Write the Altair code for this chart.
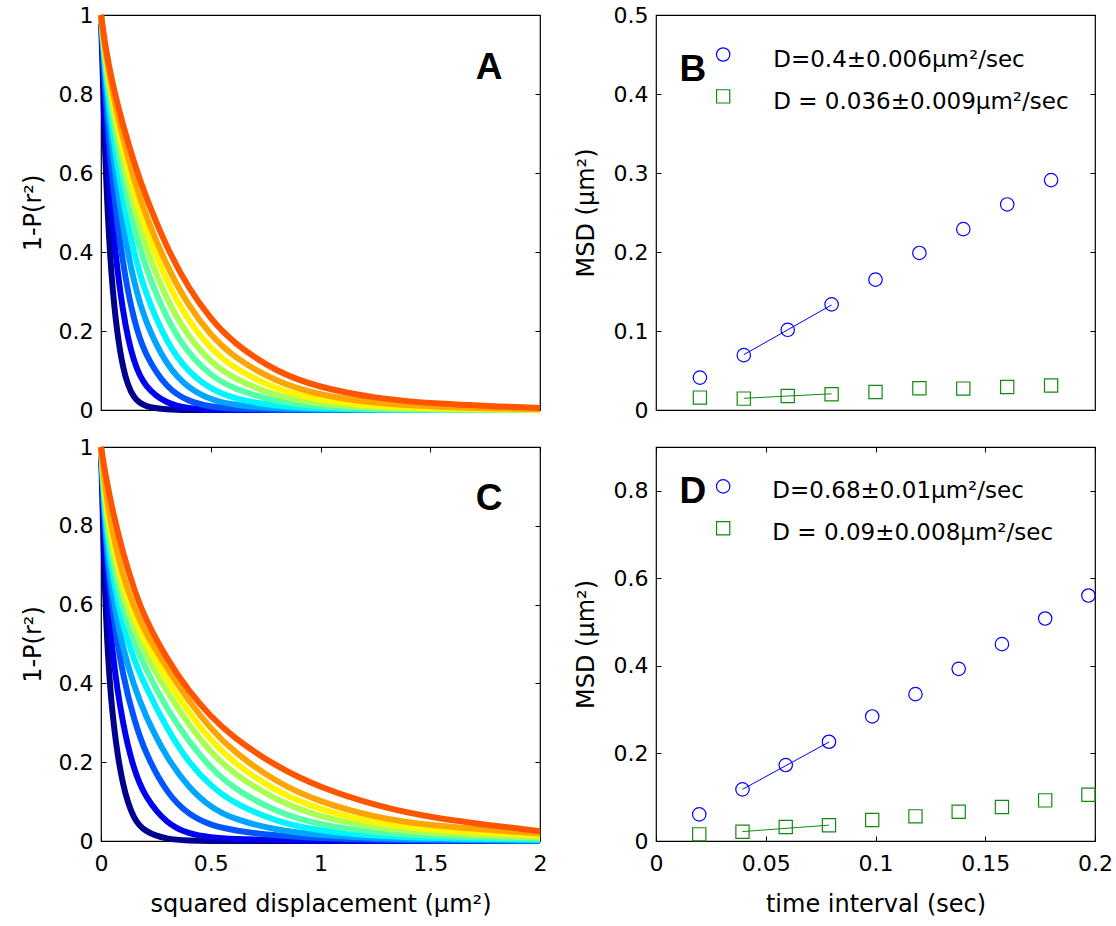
import altair as alt
import pandas as pd

FONT = "DejaVu Sans"
LETTER_FONT = "Liberation Sans"

# ---------------- data ----------------
# squared displacement sample points (um^2) used for the CDF curves
r2_grid = [0, 0.02, 0.05, 0.1, 0.15, 0.2, 0.3, 0.4, 0.5, 0.6, 0.8, 1.0, 1.25, 1.5, 2.0]

curve_names = ["c01", "c02", "c03", "c04", "c05", "c06", "c07", "c08", "c09", "c10"]
curve_colors = ["#00008F", "#0000F0", "#0055FF", "#00A5FF", "#00F5FF",
                "#55FFAA", "#AAFF55", "#FFF500", "#FFA500", "#FF5500"]

# panel A : 1-P(r^2) for ten time lags
A_c01 = [1, 0.60, 0.29, 0.088, 0.027, 0.008, 0.001, 0, 0, 0, 0, 0, 0, 0, 0]
A_c02 = [1, 0.72, 0.47, 0.235, 0.117, 0.058, 0.015, 0.004, 0.001, 0, 0, 0, 0, 0, 0]
A_c03 = [1, 0.79, 0.585, 0.362, 0.225, 0.139, 0.054, 0.021, 0.008, 0.003, 0.0004, 0, 0, 0, 0]
A_c04 = [1, 0.83, 0.66, 0.46, 0.322, 0.225, 0.110, 0.054, 0.026, 0.0125, 0.003, 0.001, 0, 0, 0]
A_c05 = [1, 0.855, 0.71, 0.53, 0.398, 0.298, 0.168, 0.094, 0.053, 0.029, 0.009, 0.003, 0.001, 0, 0]
A_c06 = [1, 0.87, 0.75, 0.587, 0.463, 0.365, 0.227, 0.141, 0.087, 0.054, 0.020, 0.008, 0.002, 0.001, 0]
A_c07 = [1, 0.885, 0.775, 0.627, 0.511, 0.416, 0.277, 0.183, 0.121, 0.080, 0.034, 0.015, 0.005, 0.002, 0]
A_c08 = [1, 0.895, 0.795, 0.66, 0.55, 0.46, 0.322, 0.223, 0.155, 0.107, 0.051, 0.024, 0.009, 0.004, 0.001]
A_c09 = [1, 0.905, 0.81, 0.688, 0.585, 0.498, 0.362, 0.262, 0.189, 0.135, 0.070, 0.037, 0.017, 0.008, 0.002]
A_c10 = [1, 0.92, 0.83, 0.72, 0.628, 0.545, 0.41, 0.307, 0.230, 0.171, 0.095, 0.056, 0.030, 0.016, 0.005]

# panel C : 1-P(r^2) for ten time lags
C_c01 = [1, 0.56, 0.31, 0.13, 0.054, 0.023, 0.004, 0.001, 0, 0, 0, 0, 0, 0, 0]
C_c02 = [1, 0.69, 0.475, 0.29, 0.18, 0.112, 0.043, 0.018, 0.009, 0.005, 0.002, 0.001, 0, 0, 0]
C_c03 = [1, 0.76, 0.59, 0.415, 0.31, 0.225, 0.12, 0.066, 0.04, 0.027, 0.013, 0.007, 0.003, 0.0015, 0]
C_c04 = [1, 0.78, 0.63, 0.485, 0.395, 0.32, 0.21, 0.135, 0.085, 0.056, 0.027, 0.014, 0.007, 0.0035, 0.001]
C_c05 = [1, 0.81, 0.68, 0.545, 0.46, 0.395, 0.285, 0.198, 0.14, 0.097, 0.048, 0.025, 0.013, 0.007, 0.003]
C_c06 = [1, 0.83, 0.715, 0.585, 0.505, 0.44, 0.335, 0.252, 0.185, 0.135, 0.072, 0.04, 0.021, 0.012, 0.006]
C_c07 = [1, 0.85, 0.74, 0.62, 0.54, 0.475, 0.38, 0.295, 0.225, 0.172, 0.102, 0.06, 0.033, 0.019, 0.009]
C_c08 = [1, 0.87, 0.765, 0.65, 0.57, 0.505, 0.41, 0.325, 0.255, 0.2, 0.124, 0.078, 0.045, 0.027, 0.014]
C_c09 = [1, 0.89, 0.79, 0.67, 0.595, 0.53, 0.44, 0.355, 0.285, 0.228, 0.148, 0.098, 0.06, 0.038, 0.019]
C_c10 = [1, 0.93, 0.845, 0.73, 0.64, 0.565, 0.462, 0.38, 0.316, 0.264, 0.188, 0.135, 0.09, 0.058, 0.025]

curves_A = [A_c01, A_c02, A_c03, A_c04, A_c05, A_c06, A_c07, A_c08, A_c09, A_c10]
curves_C = [C_c01, C_c02, C_c03, C_c04, C_c05, C_c06, C_c07, C_c08, C_c09, C_c10]

# panel B : MSD vs time interval
t_B = [0.02, 0.04, 0.06, 0.08, 0.10, 0.12, 0.14, 0.16, 0.18]
msd_fast_B = [0.041, 0.0694, 0.1015, 0.1337, 0.165, 0.1988, 0.2289, 0.2602, 0.291]
msd_slow_B = [0.0157, 0.0144, 0.0178, 0.0199, 0.0228, 0.0275, 0.0271, 0.0292, 0.0309]
fit_t_B = [0.04, 0.08]
fit_fast_B = [0.0700, 0.1330]
fit_slow_B = [0.0148, 0.0205]

# panel D : MSD vs time interval
t_D = [0.0197, 0.0394, 0.0591, 0.0788, 0.0985, 0.1182, 0.1379, 0.1576, 0.1773, 0.197]
msd_fast_D = [0.0609, 0.118, 0.1735, 0.2267, 0.2845, 0.3355, 0.3933, 0.4496, 0.5082, 0.5607]
msd_slow_D = [0.0152, 0.0213, 0.032, 0.0358, 0.0479, 0.0563, 0.067, 0.0776, 0.0928, 0.1058]
fit_t_D = [0.0394, 0.0788]
fit_fast_D = [0.1180, 0.2260]
fit_slow_D = [0.0215, 0.0362]

# legends / labels (data coordinates)
legend_B = {"marker_x": 0.0306, "circle_y": 0.450, "square_y": 0.397, "text_x": 0.0534,
            "texts": ["D=0.4\u00b10.006\u03bcm\u00b2/sec", "D = 0.036\u00b10.009\u03bcm\u00b2/sec"],
            "text_y": [0.443, 0.390]}
legend_D = {"marker_x": 0.0306, "circle_y": 0.810, "square_y": 0.7146, "text_x": 0.053,
            "texts": ["D=0.68\u00b10.01\u03bcm\u00b2/sec", "D = 0.09\u00b10.008\u03bcm\u00b2/sec"],
            "text_y": [0.799, 0.704]}
panel_letters = {"A": (1.768, 0.865), "B": (0.0168, 0.430), "C": (1.768, 0.867), "D": (0.0168, 0.798)}

W = 439
H_TOP = 395
H_BOT = 394
TICK = 5
BLUE = "#0000FF"
GREEN = "#128A12"
LABEL_SIZE = 22
TITLE_SIZE = 24
TEXT_SIZE = 23


def yaxis(values, title, length, tpad):
    return alt.Axis(values=values, format="~g", grid=True, gridDash=[TICK, length - 2 * TICK],
                    gridColor="black", gridOpacity=1, gridWidth=1, ticks=False, tickSize=0,
                    domain=False, labelFont=FONT, labelFontSize=LABEL_SIZE, labelColor="black",
                    labelPadding=8, labelFlush=False, labelOverlap=False,
                    title=title, titleFont=FONT, titleFontSize=TITLE_SIZE, titleFontWeight="normal",
                    titleColor="black", titlePadding=tpad)


def xaxis(values, title, length):
    return alt.Axis(values=values, format="~g", grid=True, gridDash=[TICK, length - 2 * TICK],
                    gridColor="black", gridOpacity=1, gridWidth=1, ticks=False, tickSize=0,
                    domain=False, labelFont=FONT, labelFontSize=LABEL_SIZE, labelColor="black",
                    labelPadding=12, labelFlush=False, labelOverlap=False,
                    title=title, titleFont=FONT, titleFontSize=TITLE_SIZE, titleFontWeight="normal",
                    titleColor="black", titlePadding=18)


def cdf_panel(curves, letter, height, show_x):
    rows = []
    for name, vals in zip(curve_names, curves):
        for xv, yv in zip(r2_grid, vals):
            rows.append({"x": xv, "y": yv, "curve": name})
    df = pd.DataFrame(rows)
    xs = alt.Scale(domain=[0, 2], nice=False, zero=False)
    ys = alt.Scale(domain=[0, 1], nice=False, zero=False)
    xa = xaxis([0, 0.5, 1, 1.5, 2], "squared displacement (\u03bcm\u00b2)", height) if show_x else None
    ya = yaxis([0, 0.2, 0.4, 0.6, 0.8, 1], "1-P(r\u00b2)", W, 13)
    lines = alt.Chart(df).mark_line(strokeWidth=6, interpolate="basis").encode(
        x=alt.X("x:Q", scale=xs, axis=xa),
        y=alt.Y("y:Q", scale=ys, axis=ya),
        color=alt.Color("curve:N", scale=alt.Scale(domain=curve_names, range=curve_colors), legend=None),
        detail="curve:N",
    )
    lx, ly = panel_letters[letter]
    lab = alt.Chart(pd.DataFrame({"x": [lx], "y": [ly], "t": [letter]})).mark_text(
        font=LETTER_FONT, fontSize=37, fontWeight="bold", align="center", baseline="middle", color="black"
    ).encode(x=alt.X("x:Q", scale=xs, axis=xa), y=alt.Y("y:Q", scale=ys, axis=ya), text="t:N")
    return alt.layer(lines, lab).properties(width=W, height=height)


def msd_panel(t, fast, slow, fit_t, fit_fast, fit_slow, legend, letter, ymax, yvals, height, show_x):
    xs = alt.Scale(domain=[0, 0.2], nice=False, zero=False)
    ys = alt.Scale(domain=[0, ymax], nice=False, zero=False)
    xa = xaxis([0, 0.05, 0.1, 0.15, 0.2], "time interval (sec)", height) if show_x else None
    ya = yaxis(yvals, "MSD (\u03bcm\u00b2)", W, 15)
    X = alt.X("x:Q", scale=xs, axis=xa)
    Y = alt.Y("y:Q", scale=ys, axis=ya)
    df_fast = pd.DataFrame({"x": t + [legend["marker_x"]], "y": fast + [legend["circle_y"]]})
    df_slow = pd.DataFrame({"x": t + [legend["marker_x"]], "y": slow + [legend["square_y"]]})
    circ = alt.Chart(df_fast).mark_point(shape="circle", filled=False, size=180, strokeWidth=1.2,
                                         color=BLUE, opacity=1).encode(x=X, y=Y)
    sq = alt.Chart(df_slow).mark_point(shape="square", filled=False, size=175, strokeWidth=1.2,
                                       color=GREEN, opacity=1).encode(x=X, y=Y)
    f1 = alt.Chart(pd.DataFrame({"x": fit_t, "y": fit_fast})).mark_line(color=BLUE, strokeWidth=1).encode(x=X, y=Y)
    f2 = alt.Chart(pd.DataFrame({"x": fit_t, "y": fit_slow})).mark_line(color=GREEN, strokeWidth=1).encode(x=X, y=Y)
    txt = alt.Chart(pd.DataFrame({"x": [legend["text_x"]] * 2, "y": legend["text_y"], "t": legend["texts"]})).mark_text(
        font=FONT, fontSize=TEXT_SIZE, align="left", baseline="middle", color="black"
    ).encode(x=X, y=Y, text="t:N")
    lx, ly = panel_letters[letter]
    lab = alt.Chart(pd.DataFrame({"x": [lx], "y": [ly], "t": [letter]})).mark_text(
        font=LETTER_FONT, fontSize=37, fontWeight="bold", align="center", baseline="middle", color="black"
    ).encode(x=X, y=Y, text="t:N")
    return alt.layer(f1, f2, circ, sq, txt, lab).properties(width=W, height=height)


pA = cdf_panel(curves_A, "A", H_TOP, False)
pC = cdf_panel(curves_C, "C", H_BOT, True)
pB = msd_panel(t_B, msd_fast_B, msd_slow_B, fit_t_B, fit_fast_B, fit_slow_B, legend_B, "B",
               0.5, [0, 0.1, 0.2, 0.3, 0.4, 0.5], H_TOP, False)
pD = msd_panel(t_D, msd_fast_D, msd_slow_D, fit_t_D, fit_fast_D, fit_slow_D, legend_D, "D",
               0.9, [0, 0.2, 0.4, 0.6, 0.8], H_BOT, True)

chart = alt.concat(pA, pB, pC, pD, columns=2, spacing={"row": 37, "column": 116},
                   bounds="flush").properties(
    padding={"left": 20, "top": 2, "right": 0, "bottom": 0},
    background="white",
).configure_view(stroke="black", strokeWidth=1.2)

chart.save("out.html", embed_options={"renderer": "svg", "actions": False})
